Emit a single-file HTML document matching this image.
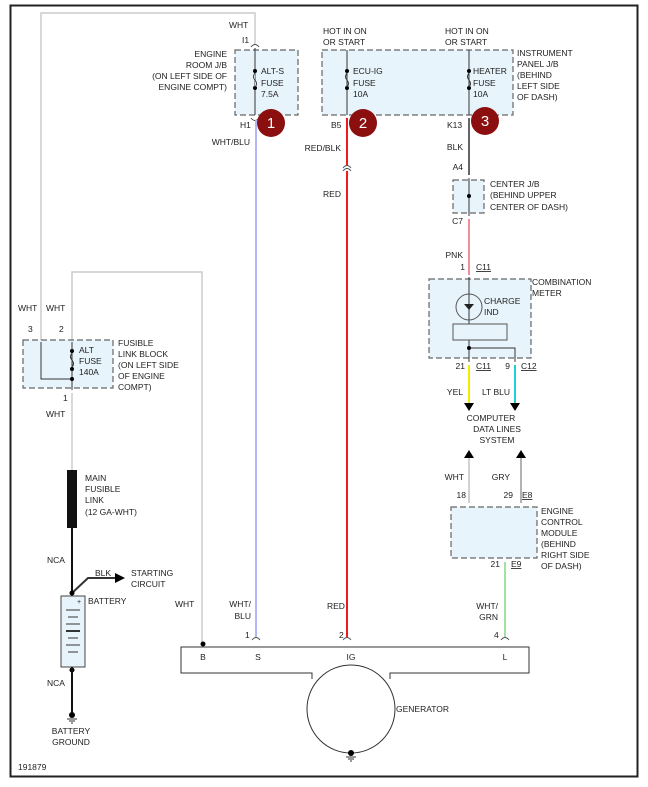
<!DOCTYPE html>
<html><head><style>
body{margin:0;background:#fff}
svg{display:block}
text{font-family:"Liberation Sans",sans-serif;font-size:8.5px;fill:#222}
.r{text-anchor:end}.m{text-anchor:middle}
.box{fill:#e8f4fc;stroke:#666;stroke-width:1.2;stroke-dasharray:6,3}
</style></head><body>
<svg width="648" height="787" viewBox="0 0 648 787">
<rect x="10.5" y="5.5" width="627" height="771" fill="#fff" stroke="#222" stroke-width="2"/>
<polyline points="41,340 41,13 255,13 255,45" fill="none" stroke="#ccc" stroke-width="1.5"/>
<polyline points="72,340 72,272 202,272 202,645" fill="none" stroke="#ccc" stroke-width="1.5"/>
<line x1="72" y1="393" x2="72" y2="470" stroke="#ccc" stroke-width="1.5"/>
<rect class="box" x="235" y="50" width="63" height="65"/>
<line x1="255" y1="48" x2="255" y2="115" stroke="#333"/>
<circle cx="255" cy="71" r="2" fill="#000"/><circle cx="255" cy="88" r="2" fill="#000"/>
<path d="M255,73 q-3,4 0,7 q3,4 0,7" fill="#e8f4fc" stroke="#333"/>
<text x="261" y="74">ALT-S</text><text x="261" y="86">FUSE</text><text x="261" y="97">7.5A</text>
<text class="r" x="227" y="57">ENGINE</text><text class="r" x="227" y="68">ROOM J/B</text><text class="r" x="227" y="79">(ON LEFT SIDE OF</text><text class="r" x="227" y="90">ENGINE COMPT)</text>
<text x="229" y="28">WHT</text><text x="242" y="43">I1</text><text x="240" y="128">H1</text>
<path d="M251,47 q4,-5 8,0 M251,118 q4,5 8,0" fill="none" stroke="#555"/>
<circle cx="271" cy="123" r="14" fill="#8b0f0f"/><text x="271" y="128" class="m" style="fill:#fff;font-size:15px">1</text>
<line x1="256" y1="120" x2="256" y2="637" stroke="#aab0f5" stroke-width="1.8"/>
<text class="r" x="250" y="145">WHT/BLU</text>
<rect class="box" x="322" y="50" width="191" height="65"/>
<line x1="347" y1="50" x2="347" y2="115" stroke="#333"/><line x1="469" y1="50" x2="469" y2="115" stroke="#333"/>
<circle cx="347" cy="71" r="2" fill="#000"/><circle cx="347" cy="88" r="2" fill="#000"/>
<circle cx="469" cy="71" r="2" fill="#000"/><circle cx="469" cy="88" r="2" fill="#000"/>
<path d="M347,73 q-3,4 0,7 q3,4 0,7 M469,73 q-3,4 0,7 q3,4 0,7" fill="none" stroke="#333"/>
<text x="323" y="34">HOT IN ON</text><text x="323" y="45">OR START</text>
<text x="445" y="34">HOT IN ON</text><text x="445" y="45">OR START</text>
<text x="353" y="74">ECU-IG</text><text x="353" y="86">FUSE</text><text x="353" y="97">10A</text>
<text x="473" y="74">HEATER</text><text x="473" y="86">FUSE</text><text x="473" y="97">10A</text>
<text x="517" y="56">INSTRUMENT</text><text x="517" y="67">PANEL J/B</text><text x="517" y="78">(BEHIND</text><text x="517" y="89">LEFT SIDE</text><text x="517" y="100">OF DASH)</text>
<text x="331" y="128">B5</text><text x="447" y="128">K13</text>
<circle cx="363" cy="123" r="14" fill="#8b0f0f"/><text x="363" y="128" class="m" style="fill:#fff;font-size:15px">2</text>
<circle cx="485" cy="121" r="14" fill="#8b0f0f"/><text x="485" y="126" class="m" style="fill:#fff;font-size:15px">3</text>
<line x1="347" y1="118" x2="347" y2="637" stroke="#e00" stroke-width="1.8"/>
<path d="M343,168 q4,-5 8,0 M343,171 q4,-5 8,0" fill="#fff" stroke="#555"/>
<text class="r" x="341" y="151">RED/BLK</text><text class="r" x="341" y="197">RED</text>
<line x1="469" y1="118" x2="469" y2="175" stroke="#555" stroke-width="1.8"/>
<text class="r" x="463" y="150">BLK</text><text class="r" x="463" y="170">A4</text>
<rect class="box" x="453" y="180" width="31" height="33"/>
<line x1="469" y1="178" x2="469" y2="216" stroke="#333"/><circle cx="469" cy="196" r="2" fill="#000"/>
<text x="490" y="187">CENTER J/B</text><text x="490" y="198">(BEHIND UPPER</text><text x="490" y="210">CENTER OF DASH)</text>
<text class="r" x="463" y="224">C7</text>
<line x1="469" y1="219" x2="469" y2="275" stroke="#f08090" stroke-width="1.8"/>
<text class="r" x="463" y="258">PNK</text><text class="r" x="465" y="270">1</text><text x="476" y="270" style="text-decoration:underline">C11</text>
<rect class="box" x="429" y="279" width="102" height="79"/>
<line x1="469" y1="277" x2="469" y2="362" stroke="#333"/>
<circle cx="469" cy="307" r="13" fill="none" stroke="#555"/>
<path d="M464,304 h10 l-5,6z" fill="#222"/>
<text x="484" y="304">CHARGE</text><text x="484" y="315">IND</text>
<rect x="453" y="324" width="54" height="16" fill="#e8f4fc" stroke="#555"/>
<polyline points="469,348 515,348 515,362" fill="none" stroke="#333"/><circle cx="469" cy="348" r="2" fill="#000"/>
<text x="532" y="285">COMBINATION</text><text x="532" y="296">METER</text>
<text class="r" x="465" y="369">21</text><text x="476" y="369" style="text-decoration:underline">C11</text>
<text class="r" x="510" y="369">9</text><text x="521" y="369" style="text-decoration:underline">C12</text>
<line x1="469" y1="365" x2="469" y2="403" stroke="#ee0" stroke-width="2"/>
<line x1="515" y1="365" x2="515" y2="403" stroke="#2cd" stroke-width="2"/>
<path d="M464,403 h10 l-5,8z M510,403 h10 l-5,8z" fill="#000"/>
<text class="r" x="463" y="395">YEL</text><text class="r" x="510" y="395">LT BLU</text>
<text class="m" x="491" y="421">COMPUTER</text><text class="m" x="497" y="432">DATA LINES</text><text class="m" x="497" y="443">SYSTEM</text>
<path d="M464,458 h10 l-5,-8z M516,458 h10 l-5,-8z" fill="#000"/>
<line x1="469" y1="458" x2="469" y2="503" stroke="#ccc" stroke-width="1.8"/>
<line x1="521" y1="458" x2="521" y2="503" stroke="#aaa" stroke-width="1.8"/>
<text class="r" x="464" y="480">WHT</text><text class="r" x="510" y="480">GRY</text>
<text class="r" x="466" y="498">18</text><text class="r" x="513" y="498">29</text><text x="522" y="498" style="text-decoration:underline">E8</text>
<rect class="box" x="451" y="507" width="86" height="51"/>
<text x="541" y="514">ENGINE</text><text x="541" y="525">CONTROL</text><text x="541" y="536">MODULE</text><text x="541" y="547">(BEHIND</text><text x="541" y="558">RIGHT SIDE</text><text x="541" y="569">OF DASH)</text>
<text class="r" x="500" y="567">21</text><text x="511" y="567" style="text-decoration:underline">E9</text>
<line x1="505" y1="562" x2="505" y2="637" stroke="#9d9" stroke-width="1.8"/>
<text class="r" x="498" y="609">WHT/</text><text class="r" x="498" y="620">GRN</text>
<rect class="box" x="23" y="340" width="90" height="48"/>
<polyline points="41,342 41,379 72,379" fill="none" stroke="#333"/>
<line x1="72" y1="342" x2="72" y2="390" stroke="#333"/>
<circle cx="72" cy="351" r="2" fill="#000"/><circle cx="72" cy="369" r="2" fill="#000"/><circle cx="72" cy="379" r="2" fill="#000"/>
<path d="M72,353 q-3,4 0,7 q3,4 0,7" fill="none" stroke="#333"/>
<text x="79" y="353">ALT</text><text x="79" y="364">FUSE</text><text x="79" y="375">140A</text>
<text x="118" y="346">FUSIBLE</text><text x="118" y="357">LINK BLOCK</text><text x="118" y="368">(ON LEFT SIDE</text><text x="118" y="379">OF ENGINE</text><text x="118" y="390">COMPT)</text>
<text x="18" y="311">WHT</text><text x="46" y="311">WHT</text><text x="28" y="332">3</text><text x="59" y="332">2</text>
<text x="63" y="401">1</text><text x="46" y="417">WHT</text>
<rect x="67" y="470" width="10" height="58" fill="#111"/>
<text x="85" y="481">MAIN</text><text x="85" y="492">FUSIBLE</text><text x="85" y="503">LINK</text><text x="85" y="515">(12 GA-WHT)</text>
<line x1="72" y1="528" x2="72" y2="596" stroke="#111" stroke-width="2"/>
<text x="47" y="563">NCA</text>
<polyline points="72,593 88,578 115,578" fill="none" stroke="#333" stroke-width="2"/>
<path d="M115,573 l10,5 -10,5z" fill="#000"/>
<text x="95" y="576">BLK</text><text x="131" y="576">STARTING</text><text x="131" y="587">CIRCUIT</text>
<rect x="61" y="596" width="24" height="71" fill="#e8f4fc" stroke="#444"/>
<g stroke="#333"><line x1="66" y1="610" x2="80" y2="610"/><line x1="68" y1="617" x2="78" y2="617"/><line x1="66" y1="624" x2="80" y2="624"/><line x1="66" y1="631" x2="80" y2="631" stroke-width="2"/><line x1="68" y1="638" x2="78" y2="638"/><line x1="66" y1="645" x2="80" y2="645"/><line x1="68" y1="652" x2="78" y2="652"/></g>
<text x="77" y="604" style="font-size:7px">+</text>
<text x="88" y="604">BATTERY</text>
<circle cx="72" cy="593" r="2.5" fill="#000"/><circle cx="72" cy="670" r="2.5" fill="#000"/>
<line x1="72" y1="667" x2="72" y2="713" stroke="#111" stroke-width="2"/>
<text x="47" y="686">NCA</text>
<circle cx="72" cy="715" r="3" fill="#000"/><path d="M67,719 h10 M69,721 h6 M71,723 h2" stroke="#333"/>
<text class="m" x="71" y="734">BATTERY</text><text class="m" x="71" y="745">GROUND</text>
<text x="18" y="770">191879</text>
<!-- generator -->
<rect x="181" y="647" width="348" height="26" fill="#fff"/>
<path d="M312,679 V673 H181 V647 H529 V673 H390 V679" fill="none" stroke="#333"/>
<circle cx="351" cy="709" r="44" fill="none" stroke="#333"/>
<circle cx="351" cy="753" r="3" fill="#000"/><path d="M346,757 h10 M348,759 h6 M350,761 h2" stroke="#333"/>
<text x="396" y="712">GENERATOR</text>
<circle cx="203" cy="644" r="2.5" fill="#000"/>
<text class="m" x="203" y="660">B</text><text class="m" x="258" y="660">S</text><text class="m" x="351" y="660">IG</text><text class="m" x="505" y="660">L</text>
<text x="175" y="607">WHT</text><text class="r" x="251" y="607">WHT/</text><text class="r" x="251" y="619">BLU</text>
<text x="327" y="609">RED</text>
<text x="245" y="638">1</text><text x="339" y="638">2</text><text x="494" y="638">4</text>
<path d="M252,640 q4,-5 8,0 M343,640 q4,-5 8,0 M501,640 q4,-5 8,0" fill="none" stroke="#555"/>
</svg>
</body></html>
